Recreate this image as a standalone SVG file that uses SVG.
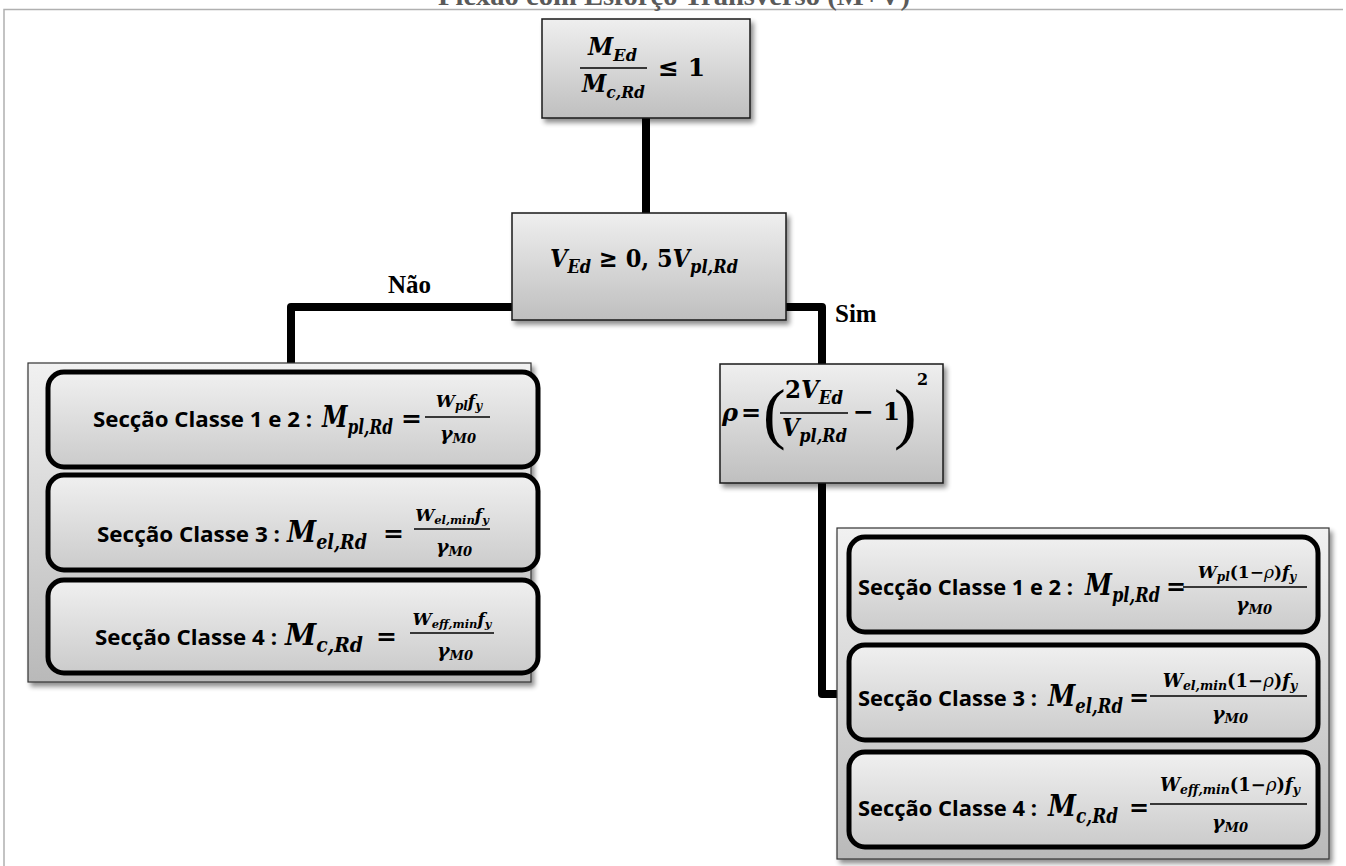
<svg xmlns="http://www.w3.org/2000/svg" width="1346" height="866" viewBox="0 0 1346 866">
<defs>
<linearGradient id="gBox" x1="0" y1="0" x2="0" y2="1"><stop offset="0" stop-color="#efefef"/><stop offset="1" stop-color="#bfbfbf"/></linearGradient>
<linearGradient id="gGrp" x1="0" y1="0" x2="0" y2="1"><stop offset="0" stop-color="#f1f1f1"/><stop offset="1" stop-color="#b9b9b9"/></linearGradient>
<linearGradient id="gIn" x1="0" y1="0" x2="0" y2="1"><stop offset="0" stop-color="#f0f0f0"/><stop offset="1" stop-color="#cbcbcb"/></linearGradient>
<filter id="sh" x="-10%" y="-10%" width="125%" height="130%"><feGaussianBlur in="SourceAlpha" stdDeviation="2.5"/><feOffset dx="3" dy="4" result="b"/><feComponentTransfer><feFuncA type="linear" slope="0.45"/></feComponentTransfer><feMerge><feMergeNode/><feMergeNode in="SourceGraphic"/></feMerge></filter>
</defs>
<style>
.box{fill:url(#gBox);stroke:#1a1a1a;stroke-width:1.5}
.grp{fill:url(#gGrp);stroke:#333;stroke-width:1.2}
.in{fill:url(#gIn);stroke:#000;stroke-width:5}
.con{fill:none;stroke:#000;stroke-width:8;stroke-linejoin:round}
.m{font-family:"DejaVu Serif",serif;font-weight:bold;font-style:italic;fill:#000}
.u{font-family:"DejaVu Serif",serif;font-weight:bold;font-style:normal;fill:#000}
.lbl{font-family:"Open Sans","Liberation Sans",sans-serif;font-weight:700;font-size:22px;fill:#000}
.t{font-family:"Liberation Serif",serif;font-weight:700;fill:#000}
.p{font-family:"Liberation Serif",serif;font-weight:normal;fill:#000}
.fl{stroke:#000;stroke-width:1.4}
</style>
<rect width="1346" height="866" fill="#fff"/>
<path d="M4,866 V9.5 H1343" fill="none" stroke="#b0b0b0" stroke-width="1.5"/>
<text class="t" x="674" y="5" font-size="27" text-anchor="middle" style="fill:#5a5a5a" textLength="472" lengthAdjust="spacingAndGlyphs">Flexão com Esforço Transverso (M+V)</text>

<g id="connectors">
<path class="con" d="M646,118 V213"/>
<path class="con" d="M512,307 H291 V364"/>
<path class="con" d="M786,307 H822 V364"/>
<path class="con" d="M822,483 V694 H837"/>
</g>
<text class="t" x="388" y="293" font-size="25">Não</text>
<text class="t" x="835" y="322" font-size="25">Sim</text>

<g id="n1">
<rect class="box" x="542" y="19" width="208" height="99" filter="url(#sh)"/>
<text class="m" x="588" y="55" font-size="24" textLength="49" lengthAdjust="spacingAndGlyphs">M<tspan dy="6" font-size="17">Ed</tspan></text>
<line class="fl" x1="580" y1="68" x2="647" y2="68"/>
<text class="m" x="582" y="92" font-size="24" textLength="63" lengthAdjust="spacingAndGlyphs">M<tspan dy="6" font-size="17">c,Rd</tspan></text>
<text class="u" x="658" y="76" font-size="25">≤ 1</text>
</g>

<g id="n2">
<rect class="box" x="512" y="213" width="274" height="107" filter="url(#sh)"/>
<text class="m" x="550" y="267" font-size="25" textLength="188" lengthAdjust="spacingAndGlyphs">V<tspan dy="6" font-size="18">Ed</tspan><tspan dy="-6" class="u"> ≥ 0, 5</tspan>V<tspan dy="6" font-size="18">pl,Rd</tspan></text>
</g>

<g id="n3">
<rect class="box" x="720" y="364" width="223" height="119" filter="url(#sh)"/>
<text class="m" x="722" y="421" font-size="24">ρ</text>
<text class="u" x="741" y="421" font-size="24">=</text>
<text class="p" x="763" y="436" font-size="68">(</text>
<text class="u" x="785" y="398" font-size="25" textLength="58" lengthAdjust="spacingAndGlyphs">2<tspan class="m">V</tspan><tspan class="m" dy="6" font-size="18">Ed</tspan></text>
<line class="fl" x1="780" y1="413" x2="848" y2="413"/>
<text class="m" x="782" y="436" font-size="25" textLength="65" lengthAdjust="spacingAndGlyphs">V<tspan dy="6" font-size="18">pl,Rd</tspan></text>
<text class="u" x="853" y="420" font-size="25">− 1</text>
<text class="p" x="894" y="436" font-size="68">)</text>
<text class="u" x="917" y="385" font-size="16">2</text>
</g>

<g id="n4">
<rect class="grp" x="28" y="363" width="503" height="319" filter="url(#sh)"/>
<rect class="in" x="48" y="372" width="490" height="95" rx="16"/>
<text class="lbl" x="93" y="427" textLength="219" lengthAdjust="spacingAndGlyphs">Secção Classe 1 e 2 :</text>
<text class="m" x="322" y="427" font-size="30" textLength="71" lengthAdjust="spacingAndGlyphs">M<tspan dy="7" font-size="20">pl,Rd</tspan></text>
<text class="u" x="401" y="427" font-size="25">=</text>
<text class="m" x="459" y="407" font-size="17" text-anchor="middle">W<tspan dy="3" font-size="12">pl</tspan><tspan dy="-3">f</tspan><tspan dy="3" font-size="12">y</tspan></text>
<line class="fl" x1="425" y1="417" x2="490" y2="417"/>
<text class="m" x="458" y="440" font-size="19" text-anchor="middle">γ<tspan dy="3" font-size="13">M0</tspan></text>

<rect class="in" x="48" y="475" width="490" height="95" rx="16"/>
<text class="lbl" x="97" y="542" textLength="183" lengthAdjust="spacingAndGlyphs">Secção Classe 3 :</text>
<text class="m" x="287" y="542" font-size="30" textLength="80" lengthAdjust="spacingAndGlyphs">M<tspan dy="7" font-size="20">el,Rd</tspan></text>
<text class="u" x="383" y="542" font-size="25">=</text>
<text class="m" x="452" y="521" font-size="17" text-anchor="middle">W<tspan dy="3" font-size="11.5">el,min</tspan><tspan dy="-3">f</tspan><tspan dy="3" font-size="11.5">y</tspan></text>
<line class="fl" x1="414" y1="529" x2="490" y2="529"/>
<text class="m" x="454" y="553" font-size="19" text-anchor="middle">γ<tspan dy="3" font-size="13">M0</tspan></text>

<rect class="in" x="48" y="580" width="490" height="93" rx="16"/>
<text class="lbl" x="95" y="645" textLength="182" lengthAdjust="spacingAndGlyphs">Secção Classe 4 :</text>
<text class="m" x="285" y="645" font-size="30" textLength="78" lengthAdjust="spacingAndGlyphs">M<tspan dy="7" font-size="20">c,Rd</tspan></text>
<text class="u" x="376" y="645" font-size="25">=</text>
<text class="m" x="452" y="625" font-size="17" text-anchor="middle">W<tspan dy="3" font-size="11.5">eff,min</tspan><tspan dy="-3">f</tspan><tspan dy="3" font-size="11.5">y</tspan></text>
<line class="fl" x1="410" y1="633" x2="494" y2="633"/>
<text class="m" x="455" y="657" font-size="19" text-anchor="middle">γ<tspan dy="3" font-size="13">M0</tspan></text>
</g>

<g id="n5">
<rect class="grp" x="837" y="528" width="492" height="331" filter="url(#sh)"/>
<rect class="in" x="849" y="537" width="469" height="95" rx="16"/>
<text class="lbl" x="858" y="595" textLength="215" lengthAdjust="spacingAndGlyphs">Secção Classe 1 e 2 :</text>
<text class="m" x="1085" y="595" font-size="30" textLength="75" lengthAdjust="spacingAndGlyphs">M<tspan dy="7" font-size="20">pl,Rd</tspan></text>
<text class="u" x="1166" y="595" font-size="24">=</text>
<text class="m" x="1247" y="578" font-size="17" text-anchor="middle">W<tspan dy="3" font-size="12">pl</tspan><tspan dy="-3" class="u">(1−</tspan><tspan style="font-weight:normal">ρ</tspan><tspan class="u">)</tspan>f<tspan dy="3" font-size="12">y</tspan></text>
<line class="fl" x1="1183" y1="587" x2="1307" y2="587"/>
<text class="m" x="1254" y="611" font-size="19" text-anchor="middle">γ<tspan dy="3" font-size="13">M0</tspan></text>

<rect class="in" x="849" y="645" width="469" height="95" rx="16"/>
<text class="lbl" x="858" y="706" textLength="179" lengthAdjust="spacingAndGlyphs">Secção Classe 3 :</text>
<text class="m" x="1048" y="706" font-size="30" textLength="75" lengthAdjust="spacingAndGlyphs">M<tspan dy="7" font-size="20">el,Rd</tspan></text>
<text class="u" x="1129" y="706" font-size="24">=</text>
<text class="m" x="1230" y="687" font-size="18" text-anchor="middle">W<tspan dy="3" font-size="12.5">el,min</tspan><tspan dy="-3" class="u">(1−</tspan><tspan style="font-weight:normal">ρ</tspan><tspan class="u">)</tspan>f<tspan dy="3" font-size="12.5">y</tspan></text>
<line class="fl" x1="1150" y1="696" x2="1307" y2="696"/>
<text class="m" x="1230" y="720" font-size="19" text-anchor="middle">γ<tspan dy="3" font-size="13">M0</tspan></text>

<rect class="in" x="849" y="752" width="469" height="95" rx="16"/>
<text class="lbl" x="858" y="816" textLength="179" lengthAdjust="spacingAndGlyphs">Secção Classe 4 :</text>
<text class="m" x="1048" y="816" font-size="30" textLength="70" lengthAdjust="spacingAndGlyphs">M<tspan dy="7" font-size="20">c,Rd</tspan></text>
<text class="u" x="1129" y="816" font-size="24">=</text>
<text class="m" x="1230" y="791" font-size="18" text-anchor="middle">W<tspan dy="3" font-size="12.5">eff,min</tspan><tspan dy="-3" class="u">(1−</tspan><tspan style="font-weight:normal">ρ</tspan><tspan class="u">)</tspan>f<tspan dy="3" font-size="12.5">y</tspan></text>
<line class="fl" x1="1150" y1="804" x2="1307" y2="804"/>
<text class="m" x="1230" y="829" font-size="19" text-anchor="middle">γ<tspan dy="3" font-size="13">M0</tspan></text>
</g>
</svg>
